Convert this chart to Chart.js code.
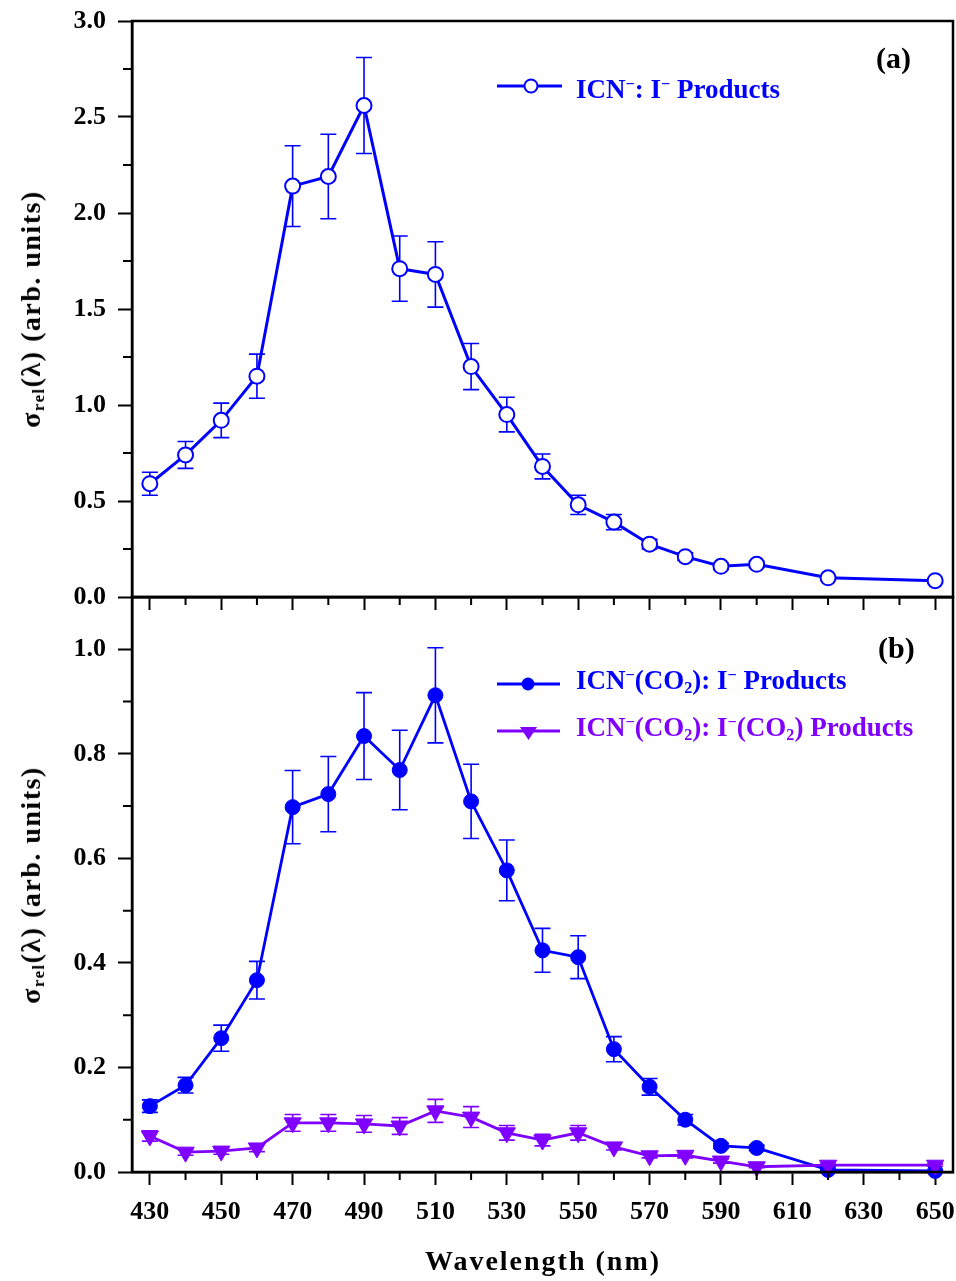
<!DOCTYPE html>
<html>
<head>
<meta charset="utf-8">
<title>ICN- relative cross sections</title>
<script src="https://cdn.jsdelivr.net/npm/chart.js"></script>
<style>
  body { margin: 0; background: #fff; }
  #page { position: relative; width: 956px; height: 1281px; overflow: hidden;
          font-family: "Liberation Serif", "Times New Roman", serif; font-weight: bold; }
  #page canvas { position: absolute; left: 0; }
  .txt { position: absolute; white-space: nowrap; line-height: 1; }
  .txt sup, .txt sub { font-size: 0.6em; line-height: 0; }
  .txt sup { vertical-align: 0.55em; }
  .txt sub { vertical-align: -0.25em; }
  .ytitle { font-size: 28px; letter-spacing: 1.5px; left: 31px;
            transform: translate(-50%, -50%) rotate(-90deg); }
  .xtitle { font-size: 28px; letter-spacing: 2px; left: 543px; top: 1247px;
            transform: translateX(-50%); }
  .leg { font-size: 27px; left: 576px; }
  .panel { font-size: 30px; }
  svg { position: absolute; }
</style>
</head>
<body>
<div id="page">
  <canvas id="panelA" width="956" height="615" style="top:0px"></canvas>
  <canvas id="panelB" width="956" height="706" style="top:575px"></canvas>

  <div class="txt ytitle" style="top:309px">&sigma;<sub>rel</sub>(&lambda;) (arb. units)</div>
  <div class="txt ytitle" style="top:885px">&sigma;<sub>rel</sub>(&lambda;) (arb. units)</div>
  <div class="txt xtitle">Wavelength (nm)</div>

  <div class="txt panel" style="left:876px;top:43px">(a)</div>
  <div class="txt panel" style="left:878px;top:633px">(b)</div>

  <svg style="left:490px;top:74px" width="80" height="26">
    <line x1="7" y1="12" x2="72" y2="12" stroke="#0000ff" stroke-width="3"/>
    <circle cx="41" cy="12" r="6.5" fill="#fff" stroke="#0000ff" stroke-width="2"/>
  </svg>
  <div class="txt leg" style="top:76px;color:#0000ff">ICN<sup>&minus;</sup>: I<sup>&minus;</sup> Products</div>

  <svg style="left:490px;top:670px" width="80" height="75">
    <line x1="7" y1="14" x2="70" y2="14" stroke="#0000ff" stroke-width="3"/>
    <circle cx="38" cy="14" r="6.5" fill="#0000ff"/>
    <line x1="7" y1="61" x2="70" y2="61" stroke="#8000ff" stroke-width="3"/>
    <polygon points="30,57 47,57 38.5,70" fill="#8000ff"/>
  </svg>
  <div class="txt leg" style="top:667px;color:#0000ff">ICN<sup>&minus;</sup>(CO<sub>2</sub>): I<sup>&minus;</sup> Products</div>
  <div class="txt leg" style="top:714px;color:#8000ff">ICN<sup>&minus;</sup>(CO<sub>2</sub>): I<sup>&minus;</sup>(CO<sub>2</sub>) Products</div>
</div>

<script>
// wavelengths (nm)
const wavelengths = [430, 440, 450, 460, 470, 480, 490, 500, 510, 520, 530, 540, 550, 560, 570, 580, 590, 600, 620, 650];

// panel (a): ICN- : I- products
const icnIProducts = [0.59, 0.74, 0.92, 1.15, 2.14, 2.19, 2.56, 1.71, 1.68, 1.20, 0.95, 0.68, 0.48, 0.39, 0.275, 0.21, 0.16, 0.17, 0.10, 0.085];
const icnIErrors   = [0.06, 0.07, 0.09, 0.115, 0.21, 0.22, 0.25, 0.17, 0.17, 0.12, 0.09, 0.065, 0.05, 0.04, 0.025, 0.02, 0.015, 0.015, 0.01, 0.01];

// panel (b): ICN-(CO2) : I- products
const co2IProducts = [0.126, 0.166, 0.256, 0.367, 0.698, 0.723, 0.834, 0.769, 0.912, 0.709, 0.577, 0.424, 0.411, 0.235, 0.163, 0.10, 0.05, 0.046, 0.004, 0.002];
const co2IErrors   = [0.012, 0.015, 0.025, 0.036, 0.07, 0.072, 0.083, 0.076, 0.091, 0.071, 0.058, 0.042, 0.041, 0.024, 0.016, 0.01, 0.005, 0.005, 0.001, 0.001];

// panel (b): ICN-(CO2) : I-(CO2) products
const co2ICO2Products = [0.069, 0.038, 0.040, 0.046, 0.094, 0.094, 0.092, 0.088, 0.117, 0.105, 0.075, 0.061, 0.075, 0.048, 0.031, 0.032, 0.021, 0.010, 0.013, 0.013];
const co2ICO2Errors   = [0.010, 0.006, 0.006, 0.007, 0.016, 0.016, 0.016, 0.016, 0.022, 0.020, 0.014, 0.011, 0.014, 0.006, 0.004, 0.005, 0.004, 0.002, 0.002, 0.002];

// ticks
const xMajorTicks = [430, 450, 470, 490, 510, 530, 550, 570, 590, 610, 630, 650];
const xMinorTicks = [440, 460, 480, 500, 520, 540, 560, 580, 600, 620, 640];
const yMajorTicksA = [0, 0.5, 1.0, 1.5, 2.0, 2.5, 3.0];
const yMinorTicksA = [0.25, 0.75, 1.25, 1.75, 2.25, 2.75];
const yMajorTicksB = [0, 0.2, 0.4, 0.6, 0.8, 1.0];
const yMinorTicksB = [0.1, 0.3, 0.5, 0.7, 0.9];

const BLUE = "#0000ff";
const PURPLE = "#8000ff";
const tickFont = { family: "'Liberation Serif', 'Times New Roman', serif", size: 26, weight: "bold" };

const toPoints = (ys) => wavelengths.map((x, i) => ({ x: x, y: ys[i] }));

// vertical error bars with caps, drawn under the markers
const errorBarPlugin = {
  id: "errorBars",
  beforeDatasetsDraw(chart) {
    const ctx = chart.ctx;
    const xs = chart.scales.x;
    const ys = chart.scales.y;
    chart.data.datasets.forEach((ds) => {
      if (!ds.errors) return;
      ctx.save();
      ctx.strokeStyle = ds.borderColor;
      ctx.lineWidth = 1.6;
      ds.data.forEach((pt, i) => {
        const e = ds.errors[i];
        const px = xs.getPixelForValue(pt.x);
        const top = ys.getPixelForValue(pt.y + e);
        const bot = ys.getPixelForValue(pt.y - e);
        ctx.beginPath();
        ctx.moveTo(px, top); ctx.lineTo(px, bot);
        ctx.moveTo(px - 8, top); ctx.lineTo(px + 8, top);
        ctx.moveTo(px - 8, bot); ctx.lineTo(px + 8, bot);
        ctx.stroke();
      });
      ctx.restore();
    });
  }
};

// shorter minor ticks, outside the frame
const minorTickPlugin = {
  id: "minorTicks",
  afterDraw(chart, args, opts) {
    const ctx = chart.ctx;
    const area = chart.chartArea;
    ctx.save();
    ctx.strokeStyle = "#000";
    ctx.lineWidth = 2;
    ctx.beginPath();
    (opts.x || []).forEach((v) => {
      const p = chart.scales.x.getPixelForValue(v);
      ctx.moveTo(p, area.bottom);
      ctx.lineTo(p, area.bottom + opts.xLength);
    });
    (opts.y || []).forEach((v) => {
      const p = chart.scales.y.getPixelForValue(v);
      ctx.moveTo(area.left - opts.yLength, p);
      ctx.lineTo(area.left, p);
    });
    ctx.stroke();
    ctx.restore();
  }
};

// closed box around the plot area
const framePlugin = {
  id: "frame",
  afterDraw(chart) {
    const a = chart.chartArea;
    const ctx = chart.ctx;
    ctx.save();
    ctx.strokeStyle = "#000";
    ctx.lineWidth = 2.5;
    ctx.strokeRect(a.left, a.top, a.right - a.left, a.bottom - a.top);
    ctx.restore();
  }
};

function makePanel(id, datasets, yMax, yMajor, yMinor, showXLabels, padTop, xHeight) {
  return new Chart(document.getElementById(id), {
    type: "line",
    data: { datasets: datasets },
    plugins: [errorBarPlugin, minorTickPlugin, framePlugin],
    options: {
      responsive: false,
      animation: false,
      layout: { autoPadding: false, padding: { top: padTop, right: 3, left: 0, bottom: 0 } },
      elements: { line: { tension: 0 } },
      plugins: {
        legend: { display: false },
        tooltip: { enabled: false },
        minorTicks: { x: xMinorTicks, xLength: 8, y: yMinor, yLength: 9 }
      },
      scales: {
        x: {
          type: "linear",
          min: 425,
          max: 655,
          afterBuildTicks: (s) => { s.ticks = xMajorTicks.map((v) => ({ value: v })); },
          afterFit: (s) => { s.height = xHeight; s.paddingLeft = 0; s.paddingRight = 0; },
          border: { color: "#000", width: 2.5 },
          grid: { drawOnChartArea: false, tickLength: 13, tickWidth: 2, tickColor: "#000" },
          ticks: { display: showXLabels, color: "#000", font: tickFont, padding: 12,
                   maxRotation: 0, autoSkip: false, callback: (v) => String(v) }
        },
        y: {
          min: 0,
          max: yMax,
          afterBuildTicks: (s) => { s.ticks = yMajor.map((v) => ({ value: v })); },
          afterFit: (s) => { s.width = 132; s.paddingTop = 0; s.paddingBottom = 0; },
          border: { color: "#000", width: 2.5 },
          grid: { drawOnChartArea: false, tickLength: 14, tickWidth: 2, tickColor: "#000" },
          ticks: { color: "#000", font: tickFont, padding: 12, callback: (v) => v.toFixed(1) }
        }
      }
    }
  });
}

makePanel("panelA", [
  {
    data: toPoints(icnIProducts),
    errors: icnIErrors,
    borderColor: BLUE,
    borderWidth: 3,
    pointRadius: 7.5,
    pointBackgroundColor: "#fff",
    pointBorderColor: BLUE,
    pointBorderWidth: 2,
    clip: false
  }
], 3.0, yMajorTicksA, yMinorTicksA, false, 21, 18);

makePanel("panelB", [
  {
    data: toPoints(co2IProducts),
    errors: co2IErrors,
    borderColor: BLUE,
    borderWidth: 2.8,
    pointRadius: 7.5,
    pointBackgroundColor: BLUE,
    pointBorderColor: BLUE,
    pointBorderWidth: 1,
    order: 1,
    clip: false
  },
  {
    data: toPoints(co2ICO2Products),
    errors: co2ICO2Errors,
    borderColor: PURPLE,
    borderWidth: 2.8,
    pointStyle: "triangle",
    rotation: 180,
    pointRadius: 10,
    pointBackgroundColor: PURPLE,
    pointBorderColor: PURPLE,
    pointBorderWidth: 1,
    order: 0,
    clip: false
  }
], 1.1, yMajorTicksB, yMinorTicksB, true, 22, 109);
</script>
</body>
</html>
